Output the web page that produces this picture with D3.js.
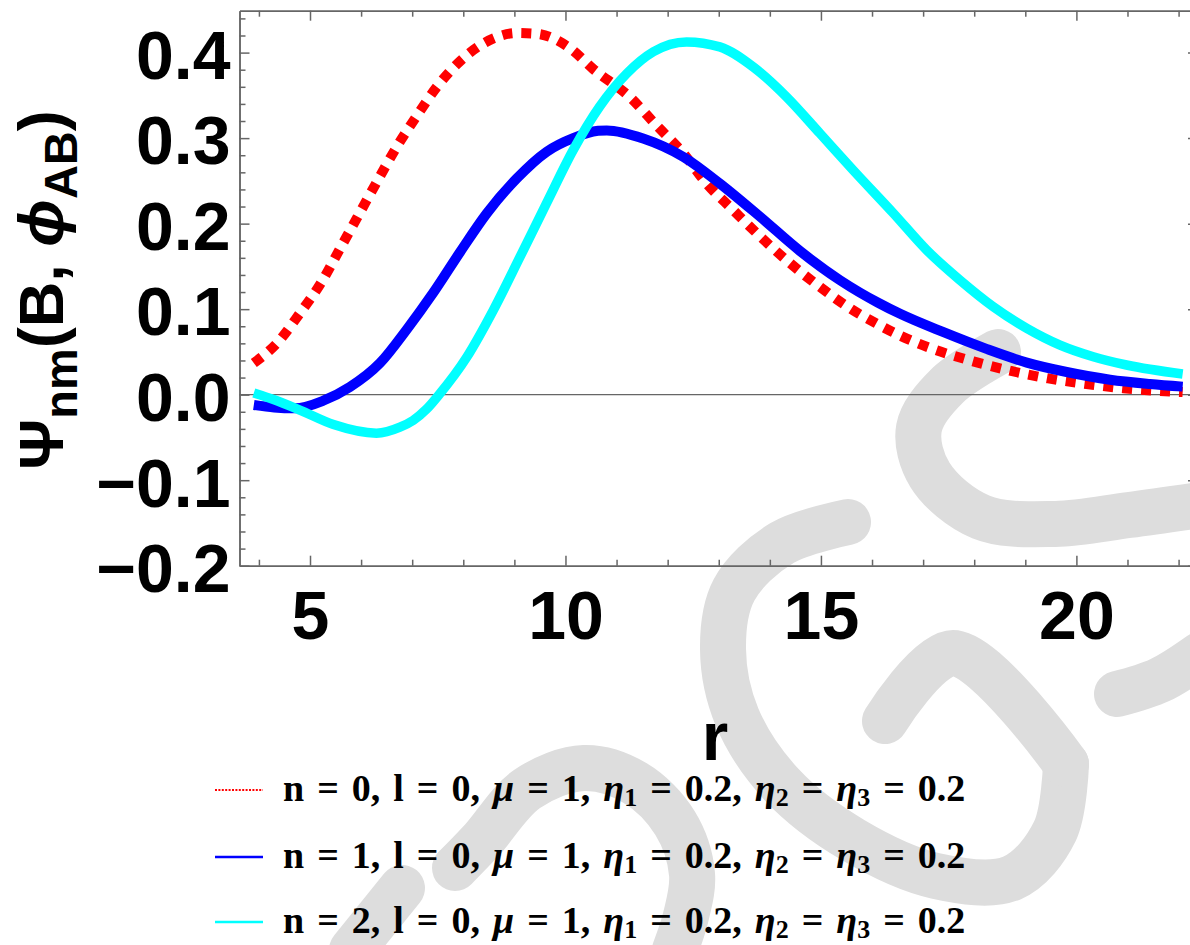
<!DOCTYPE html>
<html>
<head>
<meta charset="utf-8">
<script src="https://cdn.jsdelivr.net/npm/d3@7"></script>
<style>
  html, body { margin: 0; padding: 0; background: #fff; }
  svg { display: block; }
</style>
</head>
<body>
<script>
// curves: r values and Psi values for each state
const redR   = [3.9, 4.35, 4.8, 5.23, 5.59, 5.95, 6.31, 6.7, 7.09, 7.51, 8.03, 8.65, 9.04, 9.44, 10.09, 10.54, 11.26, 11.78, 12.31, 12.76, 13.28, 13.81, 14.39, 14.98, 15.57, 16.09, 16.55, 17.26, 17.98, 18.7, 19.45, 20.2, 20.92, 22.08];
const redPsi = [0.037, 0.06, 0.095, 0.132, 0.171, 0.21, 0.249, 0.29, 0.326, 0.362, 0.395, 0.418, 0.423, 0.422, 0.405, 0.381, 0.348, 0.315, 0.282, 0.247, 0.216, 0.185, 0.154, 0.126, 0.101, 0.083, 0.069, 0.052, 0.039, 0.028, 0.019, 0.0125, 0.0075, 0.003];

const blueR   = [3.9, 4.3, 4.7, 5.26, 5.78, 6.37, 6.89, 7.41, 7.94, 8.46, 9.05, 9.63, 10.15, 10.64, 10.81, 11.52, 12.31, 13.02, 13.81, 14.59, 15.37, 15.76, 16.12, 16.55, 17.4, 18.24, 19.03, 19.81, 20.66, 21.44, 22.08];
const bluePsi = [-0.012, -0.015, -0.016, -0.007, 0.009, 0.037, 0.076, 0.119, 0.167, 0.212, 0.253, 0.284, 0.3, 0.3085, 0.309, 0.2996, 0.278, 0.247, 0.208, 0.168, 0.134, 0.1195, 0.1075, 0.0945, 0.073, 0.0535, 0.0375, 0.0265, 0.0175, 0.0125, 0.0094];

const cyanR   = [3.9, 4.3, 4.8, 5.46, 6.3, 6.76, 7.02, 7.28, 7.54, 8.07, 8.59, 9.11, 9.63, 10.15, 10.67, 11.2, 11.72, 12.37, 13.02, 13.68, 14.33, 14.98, 15.63, 16.42, 17.07, 17.72, 18.37, 19.03, 19.68, 20.33, 20.98, 22.08];
const cyanPsi = [0.002, -0.006, -0.018, -0.035, -0.045, -0.038, -0.03, -0.017, 0.001, 0.044, 0.099, 0.161, 0.224, 0.286, 0.337, 0.3756, 0.401, 0.4125, 0.4067, 0.383, 0.348, 0.3055, 0.2626, 0.212, 0.169, 0.134, 0.103, 0.0776, 0.058, 0.0444, 0.0347, 0.0242];

const xTicks = [5, 10, 15, 20];
const yTicks = [-0.2, -0.1, 0.0, 0.1, 0.2, 0.3, 0.4];
const legendLabels = ["0", "1", "2"];   // value of n in each legend row

const width = 1190;
const height = 945;
const plot = { left: 239.5, right: 1198, top: 10.7, bottom: 565.7 };
const axisColor = "#666666";
const tickFont = "'Liberation Sans', Arial, sans-serif";

const series = [
    { r: redR,  psi: redPsi,  color: "#ff0000", dash: "10,9", width: 10 },
    { r: blueR, psi: bluePsi, color: "#0000ff", dash: null,   width: 10 },
    { r: cyanR, psi: cyanPsi, color: "#00ffff", dash: null,   width: 9.5 }
];

const svg = d3.select("body")
    .append("svg")
    .attr("width", width)
    .attr("height", height);

// light grey watermark strokes behind everything
const watermark = [
    [[848, 522], [782, 543], [734, 590], [723, 649], [737, 717], [782, 785], [853, 840], [936, 876], [1012, 878], [1055, 831], [1066, 764]],
    [[1066, 764], [953, 653], [885, 721]],
    [[998, 352], [947, 386], [919, 428], [930, 475], [981, 517], [1055, 524], [1129, 515], [1200, 505]],
    [[1117, 694], [1160, 680], [1200, 655]],
    [[455, 868], [482, 840], [527, 789], [584, 768], [635, 783], [675, 823], [692, 874], [686, 916], [675, 950]],
    [[402, 888], [352, 950]]
];
const wmLine = d3.line().curve(d3.curveCatmullRom.alpha(0.5));
svg.append("g")
    .selectAll("path")
    .data(watermark)
    .enter()
    .append("path")
    .attr("d", wmLine)
    .attr("fill", "none")
    .attr("stroke", "#dddddd")
    .attr("stroke-width", 46)
    .attr("stroke-linecap", "round")
    .attr("stroke-linejoin", "round");

const x = d3.scaleLinear().domain([3.62, 22.38]).range([plot.left, plot.right]);
const y = d3.scaleLinear().domain([-0.2, 0.449]).range([plot.bottom, plot.top]);

svg.append("clipPath")
    .attr("id", "clip")
    .append("rect")
    .attr("x", plot.left)
    .attr("y", plot.top)
    .attr("width", plot.right - plot.left)
    .attr("height", plot.bottom - plot.top);

// zero line
svg.append("line")
    .attr("x1", plot.left).attr("x2", plot.right)
    .attr("y1", y(0)).attr("y2", y(0))
    .attr("stroke", axisColor)
    .attr("stroke-width", 1.4);

const line = d3.line()
    .x(d => x(d[0]))
    .y(d => y(d[1]))
    .curve(d3.curveMonotoneX);

const curves = svg.append("g").attr("clip-path", "url(#clip)");
series.forEach(s => {
    curves.append("path")
        .datum(s.r.map((r, i) => [r, s.psi[i]]))
        .attr("d", line)
        .attr("fill", "none")
        .attr("stroke", s.color)
        .attr("stroke-width", s.width)
        .attr("stroke-dasharray", s.dash)
        .attr("stroke-linecap", "butt");
});

// frame: major + minor ticks pointing inward
const xMinor = d3.range(4, 23, 1).filter(v => v % 5 !== 0);
const yMinor = d3.range(-20, 45, 2).map(v => v / 100).filter(v => Math.abs(Math.round(v * 100) % 10) !== 0);

const frame = svg.append("g").attr("class", "frame");

const addAxis = (axisFn, scale, translate, ticks, size, labels) => {
    const a = axisFn(scale)
        .tickValues(ticks)
        .tickSizeInner(-size)
        .tickSizeOuter(0);
    if (!labels) a.tickFormat("");
    const g = frame.append("g")
        .attr("transform", translate)
        .call(a);
    g.select(".domain").attr("stroke", axisColor).attr("stroke-width", 1.5);
    g.selectAll(".tick line").attr("stroke", axisColor).attr("stroke-width", 1.5);
    return g;
};

addAxis(d3.axisBottom, x, `translate(0,${plot.bottom})`, xMinor, 6, false);
addAxis(d3.axisTop, x, `translate(0,${plot.top})`, xMinor, 6, false);
addAxis(d3.axisTop, x, `translate(0,${plot.top})`, xTicks, 10, false);
addAxis(d3.axisLeft, y, `translate(${plot.left},0)`, yMinor, 6, false);
addAxis(d3.axisRight, y, `translate(${plot.right},0)`, yMinor, 6, false);
addAxis(d3.axisRight, y, `translate(${plot.right},0)`, yTicks, 10, false);

const xAxisG = addAxis(d3.axisBottom, x, `translate(0,${plot.bottom})`, xTicks, 10, true);
xAxisG.call(g => g.selectAll(".tick text")
    .attr("y", 73)
    .attr("dy", null)
    .attr("fill", "#000")
    .style("font-family", tickFont)
    .style("font-weight", "bold")
    .style("font-size", "68px"));

const yAxisG = addAxis(d3.axisLeft, y, `translate(${plot.left},0)`, yTicks, 10, true);
yAxisG.call(g => g.selectAll(".tick text")
    .text(d => d3.format(".1f")(d).replace("-", "\u2212"))
    .attr("x", -9)
    .attr("dy", "0.38em")
    .attr("fill", "#000")
    .style("font-family", tickFont)
    .style("font-weight", "bold")
    .style("font-size", "68px"));

// axis titles
svg.append("text")
    .attr("x", 715)
    .attr("y", 760)
    .attr("text-anchor", "middle")
    .style("font-family", tickFont)
    .style("font-weight", "bold")
    .style("font-size", "68px")
    .text("r");

const yTitle = svg.append("text")
    .attr("transform", "translate(63,290) rotate(-90)")
    .attr("text-anchor", "middle")
    .style("font-family", tickFont)
    .style("font-weight", "bold")
    .style("font-size", "63px");
yTitle.append("tspan").text("\u03A8");
yTitle.append("tspan").attr("dy", 14).style("font-size", "47px").text("nm");
yTitle.append("tspan").attr("dy", -14).text("(B, ");
yTitle.append("tspan").style("font-style", "italic").text("\u03D5");
yTitle.append("tspan").attr("dy", 14).style("font-size", "47px").text("AB");
yTitle.append("tspan").attr("dy", -14).text(")");

// legend
const legend = svg.append("g")
    .style("font-family", "'Liberation Serif', 'Times New Roman', serif")
    .style("font-weight", "bold")
    .style("font-size", "38px")
    .style("word-spacing", "3.5px");

const rowY = [790, 857, 922];
series.forEach((s, i) => {
    legend.append("line")
        .attr("x1", 215).attr("x2", 263)
        .attr("y1", rowY[i]).attr("y2", rowY[i])
        .attr("stroke", s.color)
        .attr("stroke-width", s.dash ? 2 : 2.5)
        .attr("stroke-dasharray", s.dash ? "2,1.4" : null);
    const t = legend.append("text")
        .attr("x", 283)
        .attr("y", rowY[i] + 11);
    t.append("tspan").text(`n = ${legendLabels[i]}, l = 0, `);
    t.append("tspan").style("font-style", "italic").text("\u03BC");
    t.append("tspan").text(" = 1, ");
    t.append("tspan").style("font-style", "italic").text("\u03B7");
    t.append("tspan").attr("dy", 5).style("font-size", "26px").text("1");
    t.append("tspan").attr("dy", -5).text(" = 0.2, ");
    t.append("tspan").style("font-style", "italic").text("\u03B7");
    t.append("tspan").attr("dy", 5).style("font-size", "26px").text("2");
    t.append("tspan").attr("dy", -5).text(" = ");
    t.append("tspan").style("font-style", "italic").text("\u03B7");
    t.append("tspan").attr("dy", 5).style("font-size", "26px").text("3");
    t.append("tspan").attr("dy", -5).text(" = 0.2");
});
</script>
</body>
</html>
